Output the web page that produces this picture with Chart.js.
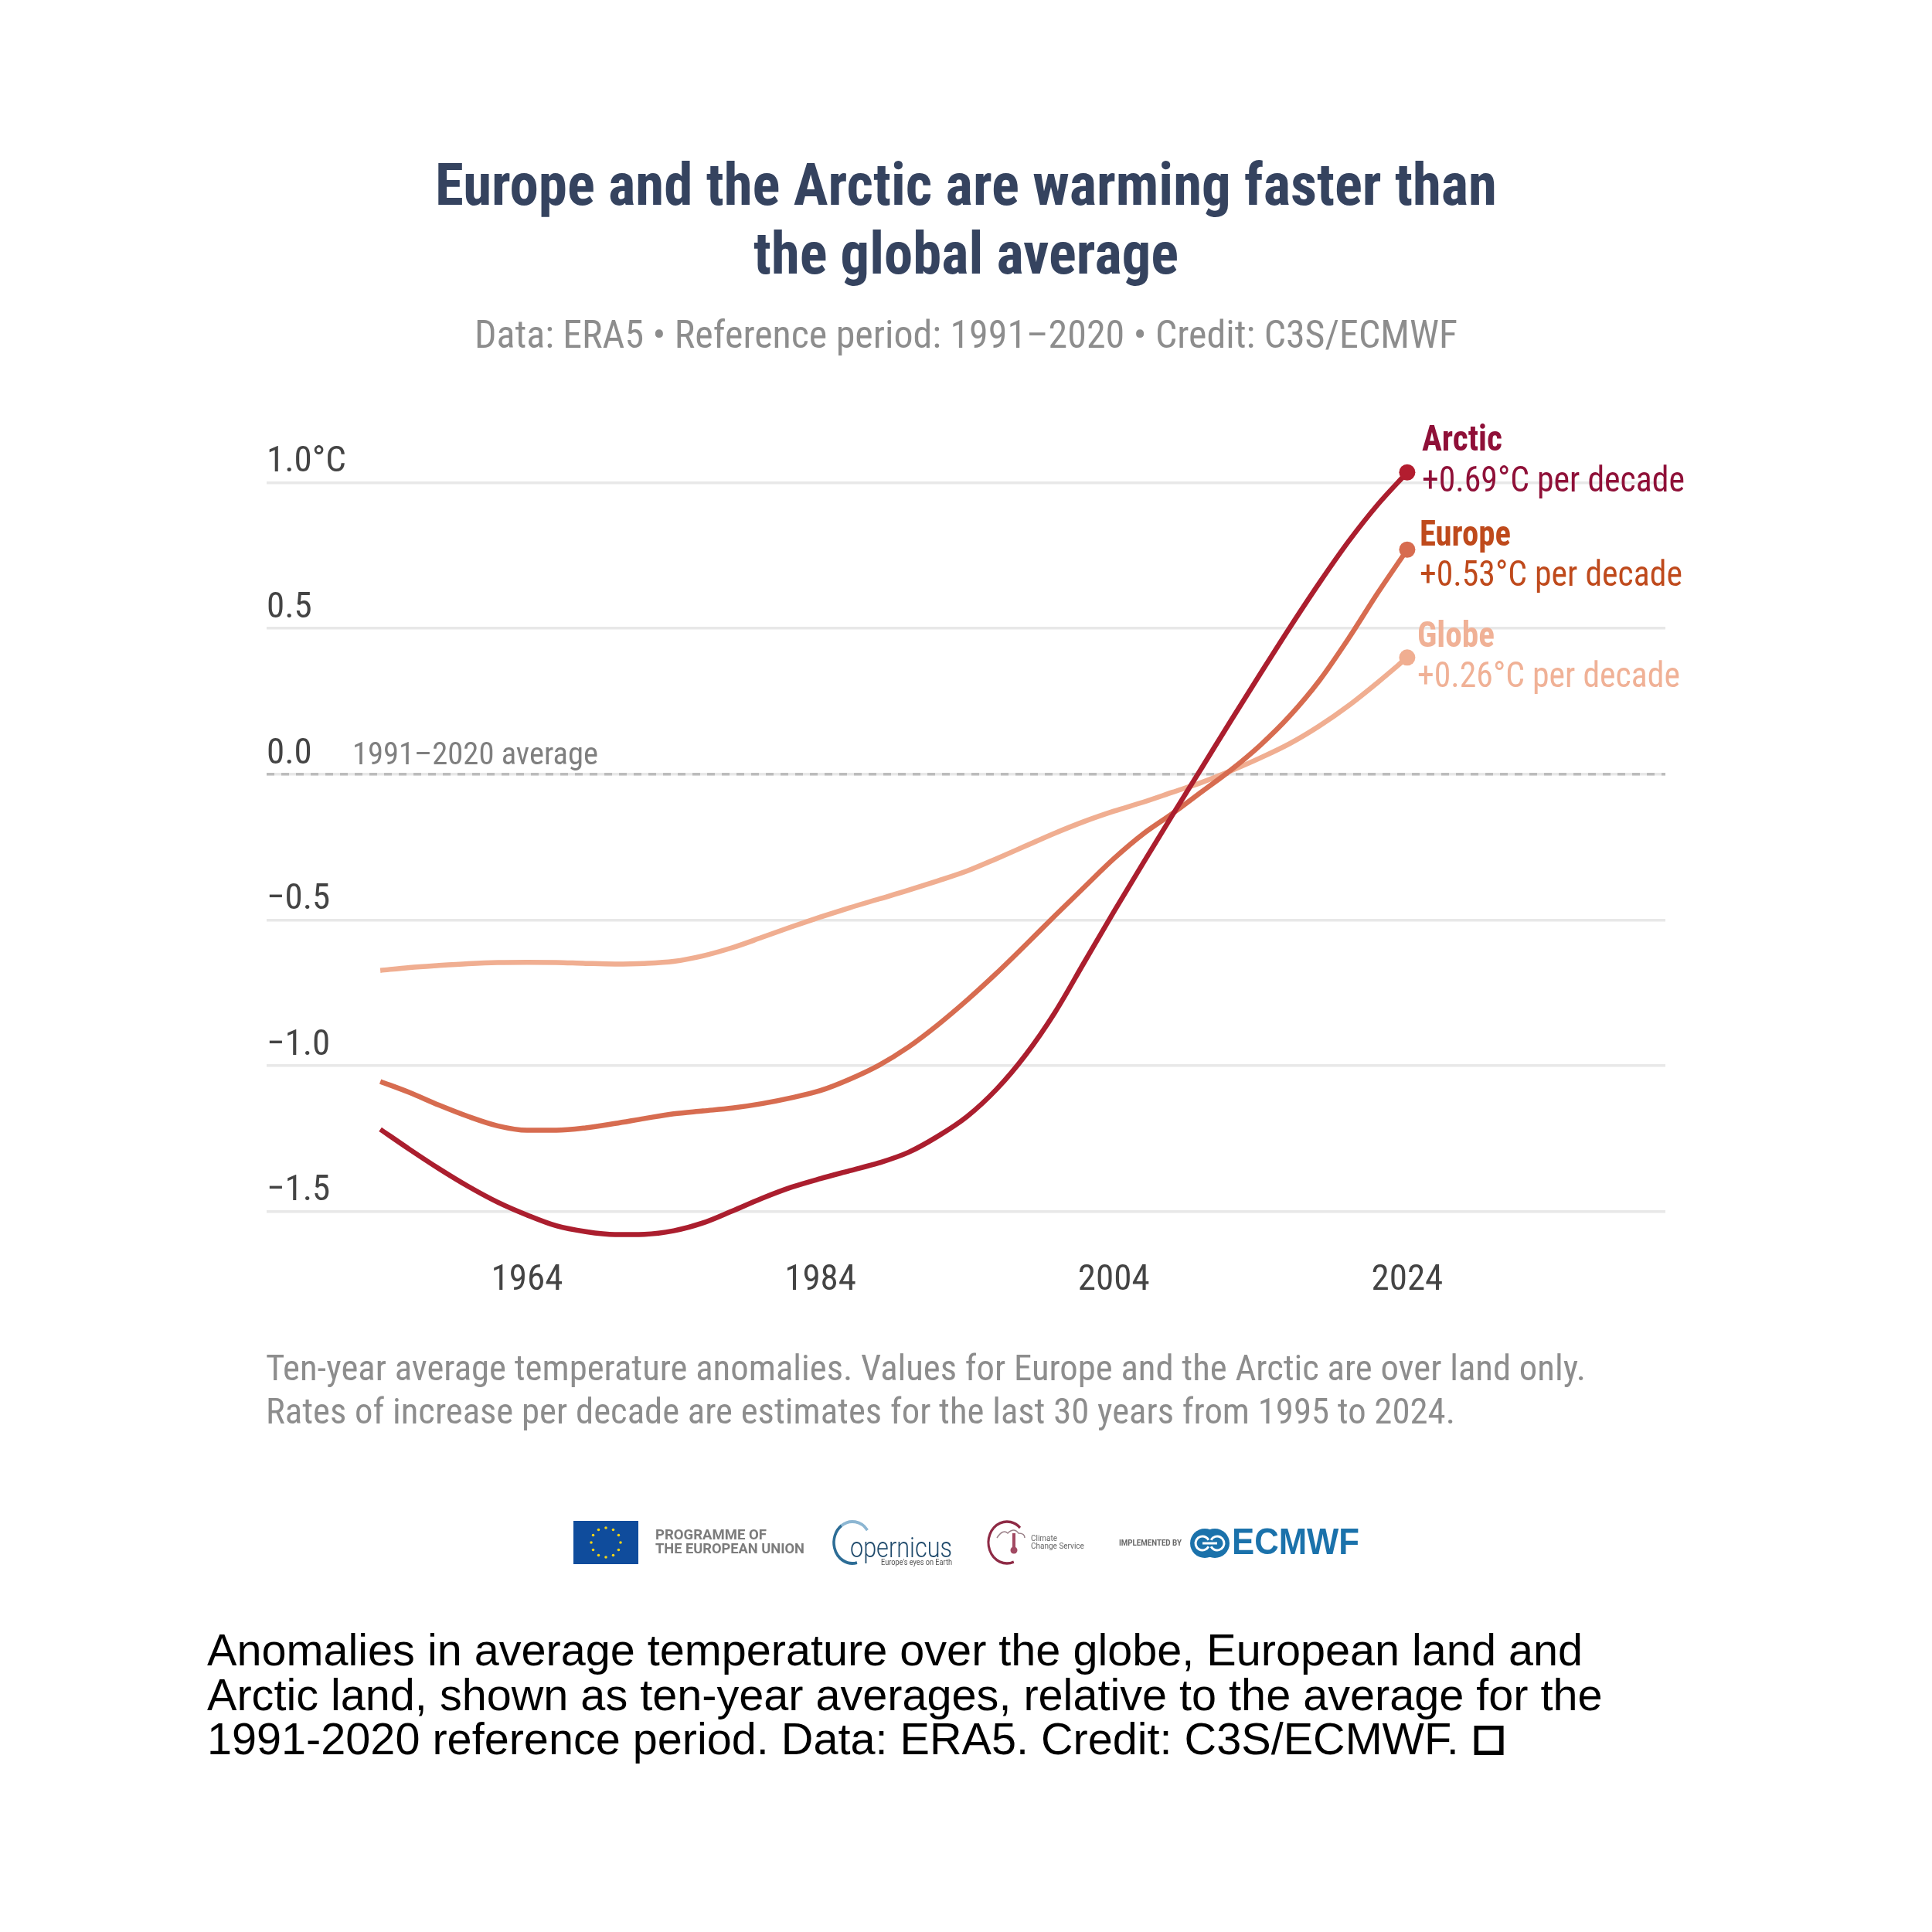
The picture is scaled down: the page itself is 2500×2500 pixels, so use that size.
<!DOCTYPE html>
<html><head><meta charset="utf-8">
<style>html,body{margin:0;padding:0;background:#fff}canvas{display:block}</style>
<script src="https://cdn.jsdelivr.net/npm/chart.js@4"></script>
</head><body><canvas id="c" width="2500" height="2500" style="width:2500px;height:2500px"></canvas>
<script>
const years = [1954,1956,1958,1960,1962,1964,1966,1968,1970,1972,1974,1976,1978,1980,1982,1984,1986,1988,1990,1992,1994,1996,1998,2000,2002,2004,2006,2008,2010,2012,2014,2016,2018,2020,2022,2024];
const globe = [-.673,-.663,-.656,-.650,-.646,-.645,-.646,-.649,-.651,-.649,-.642,-.623,-.595,-.560,-.524,-.490,-.458,-.428,-.398,-.366,-.332,-.290,-.246,-.202,-.162,-.127,-.096,-.062,-.028,.012,.056,.105,.165,.235,.315,.400];
const europe = [-1.054,-1.092,-1.135,-1.174,-1.206,-1.221,-1.221,-1.213,-1.198,-1.181,-1.165,-1.155,-1.145,-1.130,-1.110,-1.085,-1.046,-.998,-.936,-.860,-.775,-.683,-.585,-.485,-.387,-.290,-.205,-.135,-.060,.015,.100,.200,.320,.465,.622,.770];
const arctic = [-1.218,-1.287,-1.353,-1.414,-1.468,-1.512,-1.549,-1.569,-1.579,-1.578,-1.566,-1.539,-1.498,-1.455,-1.417,-1.387,-1.360,-1.333,-1.297,-1.242,-1.174,-1.081,-.962,-.816,-.644,-.472,-.305,-.140,.022,.185,.345,.503,.655,.798,.925,1.035];
const xTicks = [1964,1984,2004,2024];
const yTicks = [1,0.5,0,-0.5,-1,-1.5];
const yTickLabels = ['1.0°C','0.5','0.0','−0.5','−1.0','−1.5'];
const titleLines = ['Europe and the Arctic are warming faster than','the global average'];
const subtitle = 'Data: ERA5 • Reference period: 1991–2020 • Credit: C3S/ECMWF';
const noteLines = ['Ten-year average temperature anomalies. Values for Europe and the Arctic are over land only.','Rates of increase per decade are estimates for the last 30 years from 1995 to 2024.'];
const captionLines = ['Anomalies in average temperature over the globe, European land and','Arctic land, shown as ten-year averages, relative to the average for the','1991-2020 reference period. Data: ERA5. Credit: C3S/ECMWF.'];
const captionMark = '□';
const zeroLabel = '1991–2020 average';

const COND = '"Roboto Condensed", Roboto, sans-serif';
const AXIS_FONT = {family:COND, size:47};

function T(ctx,s,x,y,size,weight,color,align,width,family,stroke){
  ctx.save();
  ctx.font = weight+' '+size+'px '+(family||COND);
  ctx.fillStyle=color; ctx.textAlign=align||'left'; ctx.textBaseline='middle';
  if(width) ctx.fillText(s,x,y+5,width); else ctx.fillText(s,x,y+5);
  if(stroke){ctx.strokeStyle=color;ctx.lineWidth=stroke;ctx.strokeText(s,x,y+5);}
  ctx.restore();
}
const pts = a => a.map((v,i)=>({x:years[i],y:v}));
const lastOnly = r => c => c.dataIndex===years.length-1 ? r : 0;

function logos(ctx){
  // EU flag
  ctx.fillStyle='#0f4c9c'; ctx.fillRect(742,1968,84,56);
  for(let i=0;i<12;i++){const a=i*Math.PI/6;ctx.fillStyle='#f2d516';ctx.beginPath();ctx.arc(784+19*Math.cos(a),1996+19*Math.sin(a),1.8,0,7);ctx.fill();}
  T(ctx,'PROGRAMME OF',848,1982,19,'700','#7c7c7c','left',144,'Roboto');
  T(ctx,'THE EUROPEAN UNION',848,2000,19,'700','#7c7c7c','left',193,'Roboto');
  // Copernicus
  ctx.lineWidth=4;
  ctx.save();ctx.translate(1103,1996);ctx.scale(24/27,1);
  ctx.strokeStyle='#2d6d96';ctx.beginPath();ctx.arc(0,0,27,Math.PI*.42,Math.PI*1.3);ctx.stroke();
  ctx.strokeStyle='#8cb6d2';ctx.beginPath();ctx.arc(0,0,27,Math.PI*1.3,Math.PI*1.8);ctx.stroke();ctx.restore();
  T(ctx,'opernicus',1100,2001,36,'300','#1f4a6b','left',132,'Roboto');
  T(ctx,"Europe's eyes on Earth",1140,2017,11,'400','#555','left',92,'Roboto');
  // Climate Change Service
  ctx.lineWidth=3.5; ctx.strokeStyle='#8e2a45';
  ctx.save();ctx.translate(1303,1996);ctx.scale(24/27,1);ctx.beginPath();ctx.arc(0,0,27,Math.PI*.38,Math.PI*1.75);ctx.stroke();ctx.restore();
  ctx.lineWidth=1.5; ctx.strokeStyle='#9a8088';ctx.beginPath();ctx.moveTo(1290,1990);ctx.quadraticCurveTo(1298,1978,1304,1984);ctx.quadraticCurveTo(1312,1976,1318,1984);ctx.quadraticCurveTo(1326,1984,1326,1990);ctx.stroke();
  ctx.fillStyle='#a24a63';ctx.fillRect(1310,1984,4,20);ctx.beginPath();ctx.arc(1312,2006,4.5,0,7);ctx.fill();
  T(ctx,'Climate',1334,1986,10,'400','#666','left',34,'Roboto');
  T(ctx,'Change Service',1334,1996,10,'400','#666','left',72,'Roboto');
  // ECMWF
  T(ctx,'IMPLEMENTED BY',1448,1992,10,'700','#666','left',81,'Roboto');
  ctx.fillStyle='#1b72ab';
  [1559,1572].forEach(cx=>{ctx.beginPath();ctx.arc(cx,1997,19,0,7);ctx.fill();});
  ctx.strokeStyle='#fff';ctx.lineWidth=3;
  ctx.beginPath();ctx.arc(1556,1997,9,.5,5.78);ctx.stroke();
  ctx.beginPath();ctx.arc(1575,1997,9,-2.64,2.64);ctx.stroke();
  ctx.fillStyle='#fff';ctx.fillRect(1556,1995.5,19,3);
  T(ctx,'ECMWF',1594,1993,48,'700','#1b72ab','left',165,'"Liberation Sans"');
}

const decor = {
  id:'decor',
  afterDraw(chart){
    const ctx=chart.ctx, xs=chart.scales.x;
    const navy='#35435f', grey='#8d8d8d';
    T(ctx,titleLines[0],1250,241,76,'700',navy,'center',1374);
    T(ctx,titleLines[1],1250,330,76,'700',navy,'center',550);
    T(ctx,subtitle,1250,432,50,'400',grey,'center',1272);
    T(ctx,zeroLabel,456,974,41,'400','#7f7f7f','left',318);
    const xEnd = xs.getPixelForValue(2024);
    T(ctx,'Arctic',xEnd+19,566,46,'700','#8f1038','left',104);
    T(ctx,'+0.69°C per decade',xEnd+19,619,46,'400','#8f1038','left',340);
    T(ctx,'Europe',xEnd+16,689,46,'700','#bf4a1c','left',118);
    T(ctx,'+0.53°C per decade',xEnd+16,741,46,'400','#bf4a1c','left',340);
    T(ctx,'Globe',xEnd+13,820,46,'700','#f0b196','left',100);
    T(ctx,'+0.26°C per decade',xEnd+13,872,46,'400','#f0b196','left',340);
    T(ctx,noteLines[0],344,1769,47,'400',grey,'left',1708);
    T(ctx,noteLines[1],344,1825,47,'400',grey,'left',1539);
    logos(ctx);
    const cf='"Liberation Sans", Helvetica, Arial, sans-serif';
    T(ctx,captionLines[0],268,2134,57.6,'400','#000','left',1780,cf);
    T(ctx,captionLines[1],268,2192,57.6,'400','#000','left',1806,cf);
    T(ctx,captionLines[2],268,2249,57.6,'400','#000','left',null,cf);
    T(ctx,captionMark,1905,2247,46,'700','#000','left',null,'"DejaVu Sans"',3);
  }
};

new Chart(document.getElementById('c'),{
  type:'line',
  data:{datasets:[
    {data:pts(arctic),borderColor:'#ab1e2e',backgroundColor:'#b31d2f',borderWidth:6.5,order:1,cubicInterpolationMode:'monotone',pointRadius:lastOnly(10.5),pointBorderWidth:0},
    {data:pts(europe),borderColor:'#d76c50',backgroundColor:'#d76c50',borderWidth:6.5,order:2,cubicInterpolationMode:'monotone',pointRadius:lastOnly(10.5),pointBorderWidth:0},
    {data:pts(globe),borderColor:'#f0ae91',backgroundColor:'#f0ae91',borderWidth:6.5,order:3,cubicInterpolationMode:'monotone',pointRadius:lastOnly(10.5),pointBorderWidth:0},
    {data:[{x:1946.25,y:0},{x:2041.6,y:0}],borderColor:'#bcbcbc',borderWidth:3.5,borderDash:[10,9],pointRadius:0,order:4}
  ]},
  options:{
    responsive:false,animation:false,devicePixelRatio:1,
    layout:{padding:{left:345,right:345,top:549,bottom:787}},
    plugins:{legend:{display:false},tooltip:{enabled:false},title:{display:false}},
    scales:{
      x:{type:'linear',min:1946.25,max:2041.6,
        grid:{display:false},border:{display:false},
        afterBuildTicks:s=>{s.ticks=xTicks.map(v=>({value:v}));},
        afterFit:s=>{s.height=100;},
        ticks:{callback:v=>String(v),color:'#444',font:AXIS_FONT,padding:8,maxRotation:0,autoSkip:false}},
      y:{type:'linear',min:-1.62,max:1.2,
        grid:{color:'#e8e8e8',lineWidth:3.5,drawTicks:false},border:{display:false},
        afterBuildTicks:s=>{s.ticks=yTicks.map(v=>({value:v}));},
        afterFit:s=>{s.width=0;},
        ticks:{callback:v=>yTickLabels[yTicks.indexOf(v)],color:'#444',font:AXIS_FONT,mirror:true,padding:0,labelOffset:-26}}
    }
  },
  plugins:[decor]
});
</script></body></html>
